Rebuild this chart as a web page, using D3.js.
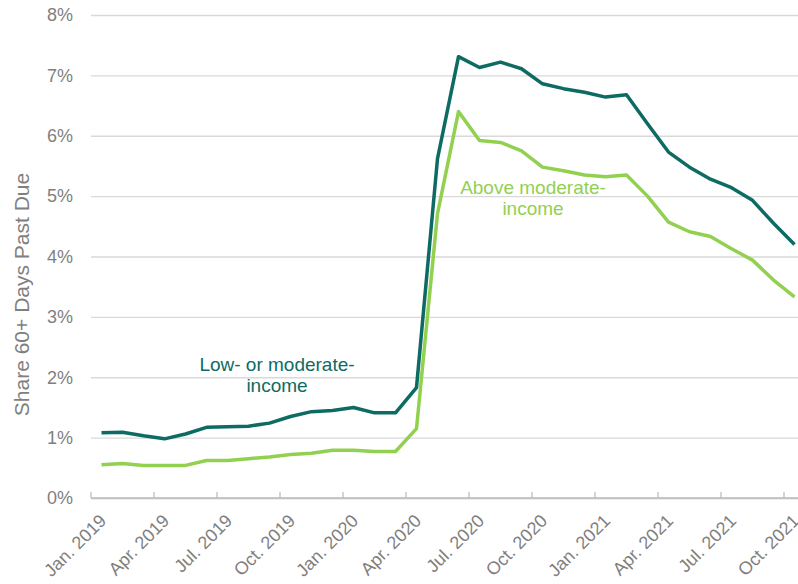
<!DOCTYPE html>
<html>
<head>
<meta charset="utf-8">
<script src="https://cdn.jsdelivr.net/npm/d3@7"></script>
<style>
  html, body { margin: 0; padding: 0; background: #fff; }
  #chart { width: 798px; height: 584px; overflow: hidden; }
  text { font-family: Arial, "Liberation Sans", sans-serif; }
</style>
</head>
<body>
<div id="chart"></div>
<script>
// Share of accounts 60+ days past due, monthly Jan. 2019 - Oct. 2021

const months = [
  "Jan. 2019", "Feb. 2019", "Mar. 2019", "Apr. 2019", "May 2019", "Jun. 2019",
  "Jul. 2019", "Aug. 2019", "Sep. 2019", "Oct. 2019", "Nov. 2019", "Dec. 2019",
  "Jan. 2020", "Feb. 2020", "Mar. 2020", "Apr. 2020", "May 2020", "Jun. 2020",
  "Jul. 2020", "Aug. 2020", "Sep. 2020", "Oct. 2020", "Nov. 2020", "Dec. 2020",
  "Jan. 2021", "Feb. 2021", "Mar. 2021", "Apr. 2021", "May 2021", "Jun. 2021",
  "Jul. 2021", "Aug. 2021", "Sep. 2021", "Oct. 2021"
];

// every third month gets a label
const tickMonths = [
  "Jan. 2019", "Apr. 2019", "Jul. 2019", "Oct. 2019", "Jan. 2020", "Apr. 2020",
  "Jul. 2020", "Oct. 2020", "Jan. 2021", "Apr. 2021", "Jul. 2021", "Oct. 2021"
];

const yTicks = [0, 1, 2, 3, 4, 5, 6, 7, 8];

const lowModIncome = [
  1.08, 1.09, 1.03, 0.98, 1.06, 1.17, 1.18, 1.19, 1.24, 1.35, 1.43, 1.45,
  1.50, 1.41, 1.41, 1.83, 5.62, 7.31, 7.13, 7.22, 7.11, 6.86, 6.78, 6.72,
  6.64, 6.68, 6.20, 5.73, 5.48, 5.28, 5.14, 4.93, 4.55, 4.20
];

const aboveModIncome = [
  0.55, 0.57, 0.54, 0.54, 0.54, 0.62, 0.62, 0.65, 0.68, 0.72, 0.74, 0.79,
  0.79, 0.77, 0.77, 1.15, 4.71, 6.40, 5.92, 5.89, 5.75, 5.48, 5.42, 5.35,
  5.32, 5.35, 5.00, 4.57, 4.41, 4.33, 4.13, 3.94, 3.61, 3.33
];

function renderChart() {
    const width = 798, height = 584;
    const margin = { top: 15, left: 91 };
    const innerWidth = 714;          // runs past the right edge, like the original crop
    const innerHeight = 483;

    const svg = d3.select("#chart")
        .append("svg")
        .attr("width", width)
        .attr("height", height);

    const g = svg.append("g")
        .attr("transform", `translate(${margin.left},${margin.top})`);

    // Scales
    const x = d3.scaleBand()
        .domain(months)
        .range([0, innerWidth])
        .padding(0);
    const cx = d => x(d) + x.bandwidth() / 2;

    const y = d3.scaleLinear()
        .domain([0, 8])
        .range([innerHeight, 0]);

    // Gridlines + y labels
    const yAxis = g.append("g")
        .call(d3.axisLeft(y)
            .tickValues(yTicks)
            .tickSize(-(width - margin.left))
            .tickPadding(18)
            .tickFormat(d => d + "%"));
    yAxis.select(".domain").remove();
    yAxis.selectAll(".tick line")
        .attr("stroke", "#d9d9d9")
        .attr("stroke-width", 1.3);
    yAxis.selectAll(".tick text")
        .attr("fill", "#7f7f7f")
        .attr("font-size", "18px");
    yAxis.select(".tick line").attr("stroke", "#bfbfbf");

    // x axis: labels at month centres, tick marks on the boundaries
    const xAxis = g.append("g")
        .attr("transform", `translate(0,${innerHeight})`);

    xAxis.append("line")
        .attr("x1", 0)
        .attr("x2", width - margin.left)
        .attr("stroke", "#bfbfbf")
        .attr("stroke-width", 1.3);

    xAxis.selectAll("line.tickmark")
        .data(tickMonths)
        .enter()
        .append("line")
        .attr("class", "tickmark")
        .attr("x1", d => x(d))
        .attr("x2", d => x(d))
        .attr("y1", 0)
        .attr("y2", -6)
        .attr("stroke", "#bfbfbf")
        .attr("stroke-width", 1.3);

    xAxis.selectAll("text.xlabel")
        .data(tickMonths)
        .enter()
        .append("text")
        .attr("class", "xlabel")
        .attr("transform", d => `translate(${cx(d) - 3},${15}) rotate(-45)`)
        .attr("text-anchor", "end")
        .attr("dy", "0.7em")
        .attr("fill", "#7f7f7f")
        .attr("font-size", "18px")
        .text(d => d);

    // y axis title
    svg.append("text")
        .attr("transform", `translate(29,${margin.top + innerHeight / 2 + 38}) rotate(-90)`)
        .attr("text-anchor", "middle")
        .attr("fill", "#7f7f7f")
        .attr("font-size", "21px")
        .text("Share 60+ Days Past Due");

    // Lines
    const line = d3.line()
        .x((d, i) => cx(months[i]))
        .y(d => y(d));

    g.append("path")
        .datum(aboveModIncome)
        .attr("fill", "none")
        .attr("stroke", "#92d050")
        .attr("stroke-width", 3.5)
        .attr("stroke-linejoin", "round")
        .attr("d", line);

    g.append("path")
        .datum(lowModIncome)
        .attr("fill", "none")
        .attr("stroke", "#0e6b63")
        .attr("stroke-width", 3.5)
        .attr("stroke-linejoin", "round")
        .attr("d", line);

    // Series labels
    const lmiLabel = svg.append("text")
        .attr("text-anchor", "middle")
        .attr("fill", "#0e6b63")
        .attr("font-size", "19px");
    lmiLabel.append("tspan").attr("x", 277).attr("y", 371).text("Low- or moderate-");
    lmiLabel.append("tspan").attr("x", 277).attr("y", 392).text("income");

    const amiLabel = svg.append("text")
        .attr("text-anchor", "middle")
        .attr("fill", "#92d050")
        .attr("font-size", "19px");
    amiLabel.append("tspan").attr("x", 533).attr("y", 194).text("Above moderate-");
    amiLabel.append("tspan").attr("x", 533).attr("y", 215).text("income");
}

renderChart();
</script>
</body>
</html>
